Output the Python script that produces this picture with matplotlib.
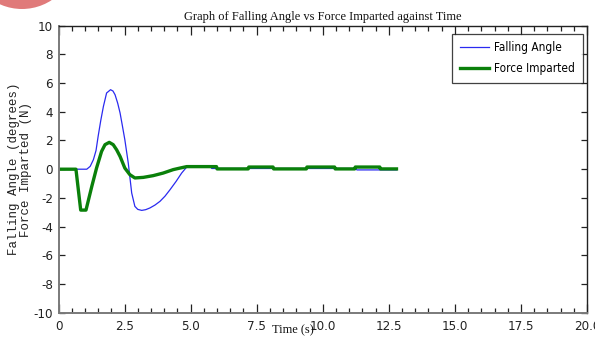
import matplotlib
matplotlib.use("Agg")
import matplotlib.pyplot as plt
from matplotlib import font_manager as fm
from matplotlib.patches import Ellipse
from matplotlib.ticker import MultipleLocator

plt.rcParams["axes.unicode_minus"] = False

# ---- data ----
angle_t = [0.0, 0.5, 1.07, 1.2, 1.32, 1.42, 1.5, 1.6, 1.7, 1.82, 1.97, 2.06, 2.14, 2.24, 2.33, 2.42,
           2.51, 2.64, 2.77, 2.89, 3.0, 3.15, 3.3, 3.46, 3.65, 3.84, 4.03, 4.22, 4.45, 4.66, 4.85,
           4.9, 5.73, 5.8, 11.2, 11.3, 12.8]
angle_v = [0.0, 0.0, 0.0, 0.2, 0.66, 1.3, 2.29, 3.4, 4.38, 5.31, 5.54, 5.45, 5.19, 4.6, 3.92, 3.0,
           2.06, 0.43, -1.66, -2.59, -2.8, -2.87, -2.82, -2.7, -2.5, -2.24, -1.88, -1.43, -0.85, -0.27, 0.15,
           0.25, 0.25, 0.05, 0.05, -0.05, -0.05]

force_t = [0.0, 0.66, 0.84, 1.04, 1.26, 1.44, 1.63, 1.76, 1.92, 2.07, 2.2, 2.33, 2.51, 2.7, 2.89,
           3.21, 3.58, 3.96, 4.34, 4.6, 4.85, 5.98, 6.0, 7.18, 7.2, 8.12, 8.14, 9.38, 9.4, 10.45, 10.47,
           11.21, 11.23, 12.16, 12.18, 12.79]
force_v = [0.0, 0.0, -2.85, -2.85, -1.2, 0.08, 1.24, 1.71, 1.87, 1.71, 1.35, 0.89, 0.08, -0.38, -0.61,
           -0.57, -0.45, -0.27, -0.03, 0.08, 0.18, 0.18, 0.02, 0.02, 0.15, 0.15, 0.02, 0.02, 0.15, 0.15, 0.02,
           0.02, 0.15, 0.15, 0.02, 0.02]

series_labels = ["Falling Angle", "Force Imparted"]
title = "Graph of Falling Angle vs Force Imparted against Time"
xlabel = "Time (s)"
ylabel = "Falling Angle (degrees)\nForce Imparted (N)"
xticks = [0, 2.5, 5.0, 7.5, 10.0, 12.5, 15.0, 17.5, 20.0]
xtick_labels = ["0", "2.5", "5.0", "7.5", "10.0", "12.5", "15.0", "17.5", "20.0"]
yticks = [-10, -8, -6, -4, -2, 0, 2, 4, 6, 8, 10]

narrow_tick = fm.FontProperties(family=["DejaVu Sans"], stretch="condensed", size=9.5)
narrow_leg = fm.FontProperties(family=["DejaVu Sans"], stretch="condensed", size=8.5)
serif = ["Liberation Serif", "DejaVu Serif"]
mono = ["Liberation Mono", "DejaVu Sans Mono"]

W, H = 595, 342
fig = plt.figure(figsize=(W / 100, H / 100), dpi=100)
fig.patch.set_facecolor("white")

# decorative pink blob in top-left corner
fig.patches.append(Ellipse((22 / W, 1 + 45 / H), 2 * 54 / W, 2 * 54 / H,
                           transform=fig.transFigure, facecolor="#e07a7a", edgecolor="none"))

l, r, t, b = 58.5, 587, 25.7, 312.7
ax = fig.add_axes([l / W, 1 - b / H, (r - l) / W, (b - t) / H])

ax.plot(angle_t, angle_v, color="#2a2af0", lw=0.9, label=series_labels[0])
ax.plot(force_t, force_v, color="#0a800a", lw=2.4, label=series_labels[1])

ax.set_xlim(0, 20)
ax.set_ylim(-10, 10)
ax.set_xticks(xticks)
ax.set_xticklabels(xtick_labels)
ax.xaxis.set_minor_locator(MultipleLocator(0.5))
ax.set_yticks(yticks)

ax.tick_params(axis="x", which="major", direction="in", length=6.5, width=0.9,
               top=True, bottom=True, color="#222222", pad=5)
ax.tick_params(axis="x", which="minor", direction="in", length=3.6, width=0.9,
               top=True, bottom=True, color="#222222")
ax.tick_params(axis="y", which="major", direction="in", length=4, width=0.9,
               left=True, right=True, color="#222222", pad=4)
for lab in ax.get_xticklabels() + ax.get_yticklabels():
    lab.set_fontproperties(narrow_tick)
    lab.set_color("#222222")

for s in ["left", "bottom"]:
    ax.spines[s].set_color("#7a7a7a")
    ax.spines[s].set_linewidth(1.4)
for s in ["top", "right"]:
    ax.spines[s].set_color("#222222")
    ax.spines[s].set_linewidth(1.0)

fig.text((l + r) / 2 / W, 1 - 17 / H, title, ha="center", va="center",
         family=serif, fontsize=9, color="#111111")
fig.text(293 / W, 1 - 330 / H, xlabel, ha="center", va="center",
         family=serif, fontsize=9, color="#111111")
fig.text(20 / W, 1 - 169 / H, ylabel, ha="center", va="center", rotation=90,
         family=mono, fontsize=9, color="#222222", linespacing=1.0)

leg = ax.legend(loc="upper right", bbox_to_anchor=(1 - 4 / (r - l), 1 - 8 / (b - t)),
                frameon=True, fancybox=False, borderaxespad=0, handlelength=2.5,
                handletextpad=0.45, borderpad=0.65, labelspacing=0.65, prop=narrow_leg)
leg.get_frame().set_edgecolor("#111111")
leg.get_frame().set_linewidth(0.9)

fig.savefig("out.png", dpi=100, facecolor="white")
